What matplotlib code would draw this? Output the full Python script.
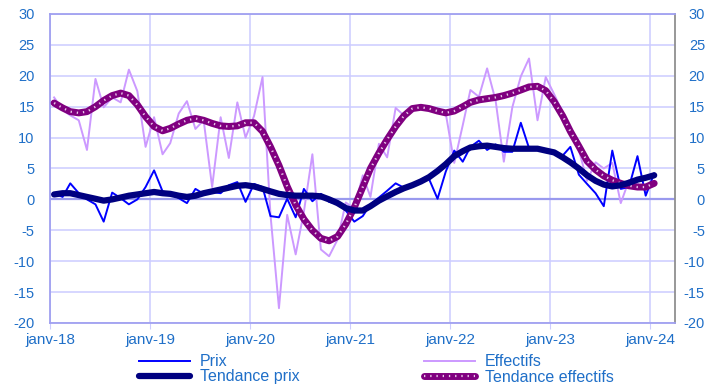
import numpy as np
import pandas as pd
import matplotlib
matplotlib.use("Agg")
import matplotlib.pyplot as plt
import matplotlib.transforms as mtrans
from matplotlib.legend_handler import HandlerTuple

plt.rcParams['font.family'] = ['Liberation Sans', 'DejaVu Sans']
plt.rcParams['axes.unicode_minus'] = False

# monthly series, janv-18 .. janv-24
prix = [1.0, 0.4, 2.6, 1.0, 0.0, -0.8, -3.6, 1.1, 0.2, -0.8,
        0.0, 2.0, 4.7, 1.3, 1.0, 0.2, -0.6, 1.7, 0.9, 1.2,
        1.0, 2.3, 2.8, -0.4, 2.5, 2.0, -2.7, -2.9, 0.1, -2.9,
        1.7, -0.3, 0.9, -0.4, -0.7, -1.8, -3.6, -2.7, -0.8, 0.3,
        1.4, 2.6, 1.9, 2.4, 2.9, 3.3, 0.1, 4.5, 7.9, 6.1,
        8.5, 9.5, 8.0, 8.9, 7.7, 7.7, 12.4, 8.3, 8.2, 8.0,
        7.6, 7.1, 8.5, 4.0, 2.5, 1.0, -1.1, 7.9, 1.7, 2.0,
        7.0, 0.6, 4.2]

effectifs = [16.5, 14.5, 13.6, 12.8, 8.0, 19.5, 14.9, 16.5, 15.7, 21.0,
             17.5, 8.5, 13.3, 7.3, 9.1, 13.9, 15.9, 11.4, 12.8, 2.0,
             13.3, 6.7, 15.7, 10.0, 13.5, 19.8, -2.5, -17.6, -2.5, -8.9,
             -2.0, 7.3, -8.1, -9.2, -6.5, -0.5, -1.5, 3.9, 0.4, 9.0,
             6.8, 14.8, 13.6, 14.5, 14.8, 14.6, 14.2, 13.9, 5.9, 12.0,
             17.7, 16.6, 21.2, 16.0, 6.1, 14.9, 19.9, 22.8, 12.8, 19.8,
             17.0, 14.0, 11.5, 8.0, 3.0, 6.0, 5.0, 5.9, -0.6, 3.1,
             2.6, 1.3, 2.7]

tend_prix = [0.8, 1.0, 1.0, 0.7, 0.4, 0.1, -0.2, 0.0, 0.3, 0.6,
             0.8, 1.0, 1.2, 1.0, 0.9, 0.6, 0.4, 0.6, 1.0, 1.3,
             1.6, 1.9, 2.2, 2.3, 2.1, 1.7, 1.3, 0.9, 0.7, 0.6,
             0.6, 0.6, 0.5, 0.0, -0.6, -1.4, -1.8, -1.8, -1.1, -0.2,
             0.5, 1.2, 1.8, 2.3, 2.9, 3.6, 4.6, 5.7, 7.0, 7.8,
             8.4, 8.6, 8.7, 8.5, 8.3, 8.2, 8.2, 8.2, 8.2, 7.9,
             7.6, 6.8, 6.0, 5.0, 3.9, 3.0, 2.4, 2.1, 2.3, 2.7,
             3.2, 3.5, 3.9]

tend_eff = [15.6, 14.8, 14.2, 14.0, 14.2, 15.0, 16.0, 16.8, 17.2, 16.8,
            15.3, 13.4, 11.8, 11.1, 11.5, 12.2, 12.8, 13.1, 12.8, 12.3,
            11.9, 11.8, 11.9, 12.4, 12.4, 11.0, 8.5, 5.5, 2.1, -0.9,
            -3.2, -5.0, -6.3, -6.7, -6.0, -4.0, -1.3, 2.0, 5.0, 7.5,
            9.7, 11.8, 13.5, 14.7, 14.9, 14.7, 14.3, 14.0, 14.3, 15.0,
            15.7, 16.1, 16.3, 16.5, 16.8, 17.2, 17.7, 18.2, 18.3, 17.6,
            15.8, 13.5, 11.0, 8.6, 6.2, 4.8, 3.8, 3.1, 2.6, 2.2,
            2.0, 2.0, 2.6]

dates = pd.date_range("2018-01-01", periods=len(prix), freq="MS") + pd.Timedelta(days=15)
tick_dates = pd.date_range("2018-01-01", "2024-01-01", freq="YS")
tick_labels = ["janv-%02d" % (d.year % 100) for d in tick_dates]
yticks = list(range(-20, 31, 5))

W, H = 716, 385
fig = plt.figure(figsize=(W / 100, H / 100), dpi=100)
ax = fig.add_axes([50 / W, 1 - 323 / H, 625 / W, 309 / H])

grid_c = '#CCCCFF'
lab_c = '#1F6FC8'
ax.set_xlim(pd.Timestamp("2018-01-01"), pd.Timestamp("2024-04-01"))
ax.set_ylim(-20, 30)
ax.set_xticks(tick_dates)
ax.set_xticklabels(tick_labels)
ax.set_yticks(yticks)
ax.grid(True, color=grid_c, lw=1.1)
ax.set_axisbelow(True)
ax.axhline(0, color='#9999EE', lw=1.6, zorder=1)

for s in ['left', 'bottom', 'top']:
    ax.spines[s].set_color('#A0A0F0')
    ax.spines[s].set_linewidth(1.3)
ax.spines['right'].set_color('#909090')
ax.spines['right'].set_linewidth(1.3)

ax.tick_params(axis='both', colors=grid_c, labelcolor=lab_c, length=4)
ax.tick_params(axis='y', right=True, labelright=True, length=0, labelsize=10.5, pad=11)
ax.tick_params(axis='x', pad=3, labelsize=11)

# right-hand labels right aligned about 30 px past the spine
off = mtrans.ScaledTranslation(30 / 100, 0, fig.dpi_scale_trans)
for tick in ax.yaxis.get_major_ticks():
    tick.label2.set_horizontalalignment('right')
    tick.label2.set_transform(ax.get_yaxis_transform() + off)
    tick.label2.set_x(1.0)

l_eff, = ax.plot(dates, effectifs, color='#CC99FF', lw=1.4, zorder=3)
l_prix, = ax.plot(dates, prix, color='#0000FF', lw=1.4, zorder=4)
l_te, = ax.plot(dates, tend_eff, color='#800080', lw=5, solid_capstyle='round', zorder=5)
l_te2, = ax.plot(dates, tend_eff, color='#E8C8E8', lw=1.6, ls=(0, (0.6, 2.2)), zorder=6)
l_tp, = ax.plot(dates, tend_prix, color='#000080', lw=4.5, solid_capstyle='round', zorder=7)

leg_kw = dict(frameon=False, fontsize=11.5, labelcolor=lab_c, handlelength=3.2,
              handletextpad=0.6, labelspacing=0.0, borderpad=0, borderaxespad=0,
              loc='upper left', handler_map={tuple: HandlerTuple(ndivide=1)})
leg1 = fig.legend([l_prix, l_tp], ['Prix', 'Tendance prix'],
                  bbox_to_anchor=(139 / W, 1 - 354.5 / H), **leg_kw)
leg2 = fig.legend([l_eff, (l_te, l_te2)], ['Effectifs', 'Tendance effectifs'],
                  bbox_to_anchor=(424 / W, 1 - 354.5 / H), **leg_kw)

fig.savefig("out.png", dpi=100)
